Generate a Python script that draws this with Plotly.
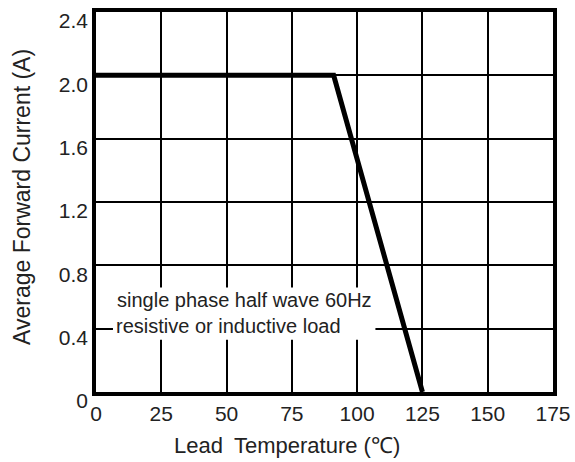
import plotly.graph_objects as go

temp = [0, 91, 125]
current = [2.0, 2.0, 0.0]
x_ticks = [0, 25, 50, 75, 100, 125, 150, 175]
y_ticks = [0, 0.4, 0.8, 1.2, 1.6, 2.0, 2.4]
y_ticktext = ["0", "0.4", "0.8", "1.2", "1.6", "2.0", "2.4"]
note_lines = ["single phase half wave 60Hz", "resistive or inductive load"]
x_title = "Lead\u2002Temperature (℃)"
y_title = "Average Forward Current (A)"

fig = go.Figure()
fig.add_trace(go.Scatter(x=temp, y=current, mode="lines",
                         line=dict(color="black", width=5), showlegend=False))

fig.add_shape(type="rect", x0=6.5, x1=107, y0=0.33, y1=0.66, xref="x", yref="y",
              fillcolor="white", line=dict(width=0), layer="between")
fig.add_annotation(x=7.2, y=0.58, xref="x", yref="y", text=note_lines[0], showarrow=False,
                   xanchor="left", font=dict(size=20, color="#222"))
fig.add_annotation(x=6.7, y=0.415, xref="x", yref="y", text=note_lines[1], showarrow=False,
                   xanchor="left", font=dict(size=20, color="#222"))

fig.add_annotation(x=0, y=0.5, xref="paper", yref="paper", text=y_title, showarrow=False,
                   textangle=-90, xanchor="center", yanchor="middle", xshift=-74, yshift=5,
                   font=dict(size=23, color="#222"))
fig.add_annotation(x=0, y=0, xref="paper", yref="paper", text=x_title, showarrow=False,
                   xanchor="left", yanchor="middle", xshift=76, yshift=-53,
                   font=dict(size=22, color="#222"))

fig.update_layout(
    width=575, height=462,
    margin=dict(l=96, r=22, t=12, b=70, autoexpand=False),
    paper_bgcolor="white", plot_bgcolor="white",
    font=dict(family="Liberation Sans, Arial", size=21, color="#222"),
)
fig.update_xaxes(range=[0, 175], tickvals=x_ticks, showgrid=True, gridcolor="black", gridwidth=1.5,
                 showline=True, linecolor="black", linewidth=3.5, mirror=True, zeroline=False,
                 ticks="", automargin=False, ticklabeloverflow="allow")
fig.update_yaxes(range=[0, 2.4], tickvals=y_ticks, ticktext=y_ticktext, showgrid=True,
                 gridcolor="black", gridwidth=1.5,
                 showline=True, linecolor="black", linewidth=3.5, mirror=True, zeroline=False,
                 ticks="", automargin=False, ticklabeloverflow="allow", ticklabelshift=9)

fig.write_html("out.html", config={"displayModeBar": False},
               post_script="document.body.style.margin='0';")
